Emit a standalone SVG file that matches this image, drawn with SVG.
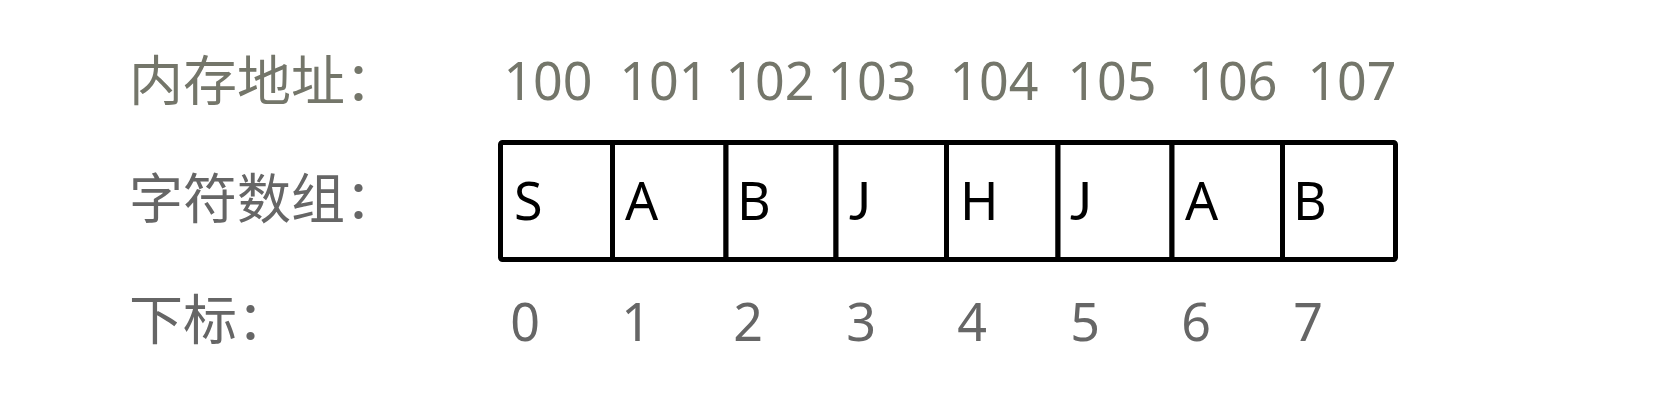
<svg xmlns="http://www.w3.org/2000/svg" width="1678" height="416" viewBox="0 0 1678 416">
<style>
.lbl{font-family:"Noto Sans CJK SC","Noto Sans",sans-serif;font-size:54px}
.addr{font-family:"Noto Sans","Open Sans",sans-serif;font-size:52px;fill:#74766a;text-anchor:middle}
.idx{font-family:"Noto Sans","Open Sans",sans-serif;font-size:52px;fill:#666666;text-anchor:middle}
.ch{font-family:"Noto Sans","Open Sans",sans-serif;font-size:52px;fill:#000000}
.chj{font-family:Lato,"Liberation Sans",sans-serif;font-size:52px;fill:#000000}
.cell{fill:#ffffff;stroke:#000000;stroke-width:5}
</style>
<rect width="1678" height="416" fill="#ffffff"/>
<g id="labels">
<text class="lbl" x="129" y="101" fill="#74766a">内存地址：</text>
<text class="lbl" x="129" y="219" fill="#666666">字符数组：</text>
<text class="lbl" x="129" y="340" fill="#666666">下标：</text>
</g>
<g id="addresses">
<text class="addr" x="548" y="100">100</text>
<text class="addr" x="664" y="100">101</text>
<text class="addr" x="770" y="100">102</text>
<text class="addr" x="872" y="100">103</text>
<text class="addr" x="994" y="100">104</text>
<text class="addr" x="1112" y="100">105</text>
<text class="addr" x="1233" y="100">106</text>
<text class="addr" x="1352" y="100">107</text>
</g>
<g id="array">
<rect class="cell" x="500.5" y="142.5" width="112" height="117" rx="2"/>
<rect class="cell" x="612.5" y="142.5" width="113.5" height="117"/>
<rect class="cell" x="726" y="142.5" width="110" height="117"/>
<rect class="cell" x="836" y="142.5" width="110.5" height="117"/>
<rect class="cell" x="946.5" y="142.5" width="111.5" height="117"/>
<rect class="cell" x="1058" y="142.5" width="114" height="117"/>
<rect class="cell" x="1172" y="142.5" width="110.5" height="117"/>
<rect class="cell" x="1282.5" y="142.5" width="113" height="117" rx="2"/>
<text class="ch" x="514" y="220">S</text>
<text class="ch" x="625" y="220">A</text>
<text class="ch" x="737" y="220">B</text>
<text class="chj" x="849" y="220">J</text>
<text class="ch" x="960" y="220">H</text>
<text class="chj" x="1070" y="220">J</text>
<text class="ch" x="1185" y="220">A</text>
<text class="ch" x="1293" y="220">B</text>
</g>
<g id="indices">
<text class="idx" x="525" y="341">0</text>
<text class="idx" x="636" y="341">1</text>
<text class="idx" x="748" y="341">2</text>
<text class="idx" x="861" y="341">3</text>
<text class="idx" x="972" y="341">4</text>
<text class="idx" x="1085" y="341">5</text>
<text class="idx" x="1196" y="341">6</text>
<text class="idx" x="1308" y="341">7</text>
</g>
</svg>
